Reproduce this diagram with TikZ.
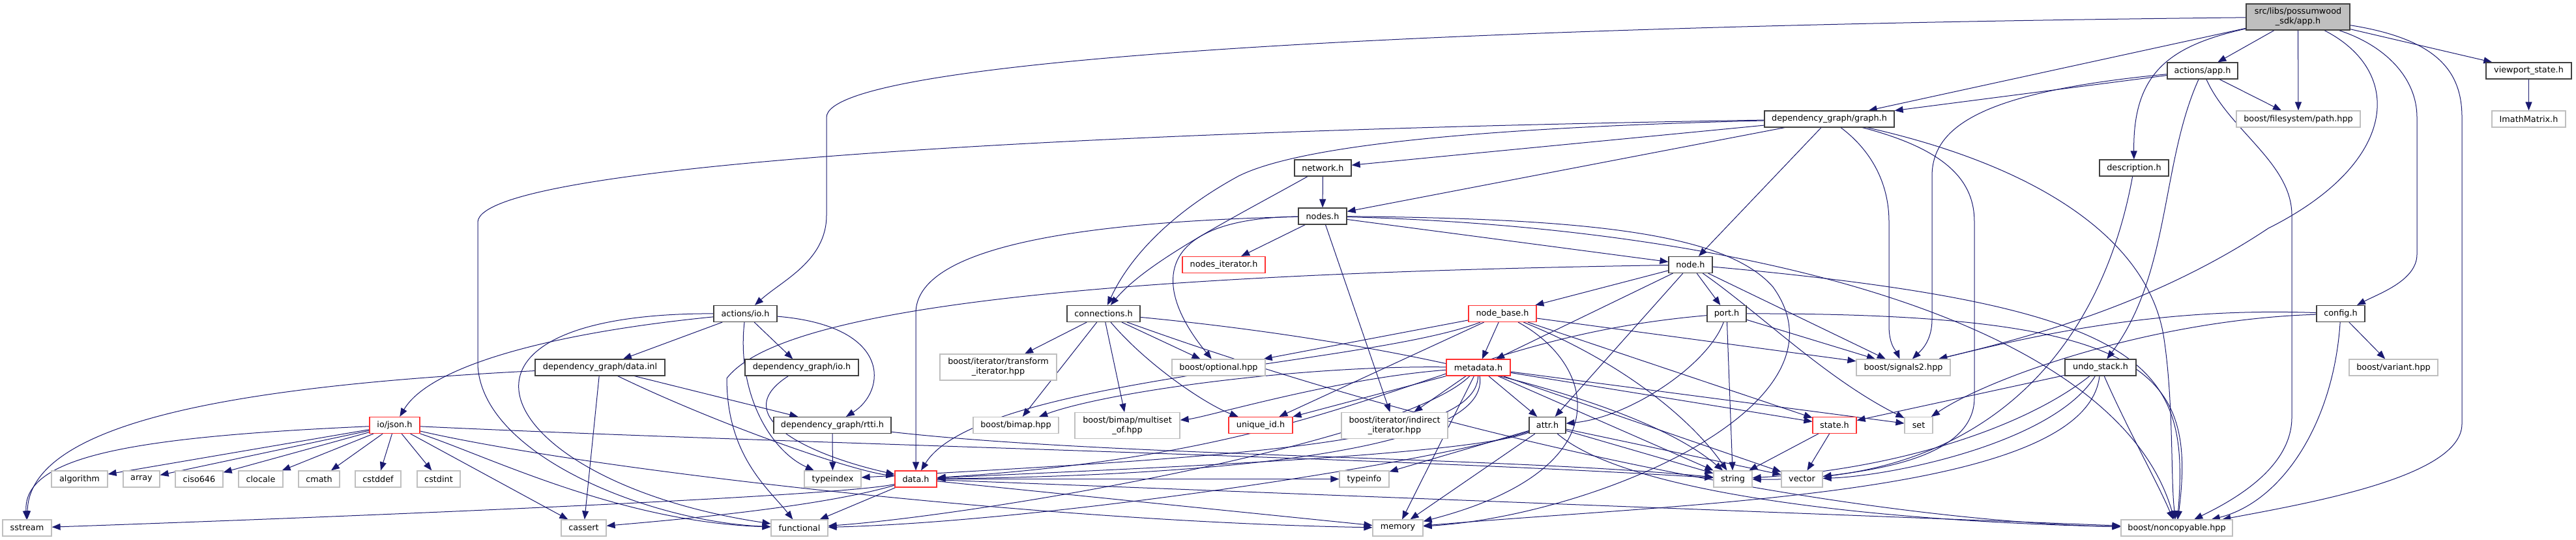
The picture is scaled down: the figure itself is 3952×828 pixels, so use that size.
\documentclass[tikz,border=0pt]{standalone}
\usepackage{fontspec}
\setmainfont{DejaVu Sans}
\usetikzlibrary{arrows.meta}
\definecolor{edgec}{HTML}{191970}
\definecolor{docb}{HTML}{404040}
\definecolor{extb}{HTML}{BFBFBF}
\definecolor{trunc}{HTML}{FF3030}
\definecolor{rootf}{HTML}{BFBFBF}
\pgfdeclarelayer{back}
\pgfdeclarelayer{edges}
\pgfsetlayers{back,edges,main}
\newcommand\dxfont{\fontsize{6.4pt}{7.6pt}\selectfont}
\begin{document}
\begin{tikzpicture}[x=0.5pt,y=-0.5pt,
  base/.style={rectangle, inner sep=0pt, minimum height=12.5pt, font=\dxfont, align=center, line width=0.6pt, fill=white, text=black},
  doc/.style={base, draw=docb},
  ext/.style={base, draw=extb},
  trn/.style={base, draw=trunc},
  root/.style={base, draw=docb, fill=rootf},
  wd/.style={minimum width=#1*0.5pt},
  h2/.style={minimum height=20pt},
  edg/.style={draw=edgec, line width=0.5pt, -{Triangle[length=6.5pt,width=5pt]}}]
\begin{pgfonlayer}{back}
\fill[white] (0,0) rectangle (3952,828);
\end{pgfonlayer}
\useasboundingbox (0,0) rectangle (3952,828);
% row 0
\node[root, wd=159, h2] (A) at (3525.5,26) {src/libs/possumwood\\\_sdk/app.h};
% row 1
\node[doc, wd=108] (AA) at (3379,108.5) {actions/app.h};
\node[doc, wd=131] (VP) at (3879.5,108.5) {viewport\_state.h};
% row 2
\node[doc, wd=199] (G) at (2806.5,182.5) {dependency\_graph/graph.h};
\node[ext, wd=190] (PATH) at (3526,182.5) {boost/filesystem/path.hpp};
\node[ext, wd=113] (IM) at (3879.5,182.5) {ImathMatrix.h};
% row 3
\node[doc, wd=87] (NET) at (2029.5,257.5) {network.h};
\node[doc, wd=106] (DESC) at (3274,257.5) {description.h};
% row 4
\node[doc, wd=74] (NODES) at (2029,331.5) {nodes.h};
% row 5
\node[trn, wd=127] (NITER) at (1877.5,406) {nodes\_iterator.h};
\node[doc, wd=67] (NODE) at (2593.5,406) {node.h};
% row 6
\node[doc, wd=97] (AIO) at (1143.5,481) {actions/io.h};
\node[doc, wd=112] (CONN) at (1693,481) {connections.h};
\node[trn, wd=104] (NB) at (2305,481) {node\_base.h};
\node[doc, wd=60] (PORT) at (2649,481) {port.h};
\node[doc, wd=74] (CFG) at (3591,481) {config.h};
% row 7
\node[doc, wd=199] (DI) at (920.5,563.5) {dependency\_graph/data.inl};
\node[doc, wd=174] (DIO) at (1230,563.5) {dependency\_graph/io.h};
\node[ext, wd=179, h2] (TRANS) at (1531.5,563) {boost/iterator/transform\\\_iterator.hpp};
\node[ext, wd=143] (OPT) at (1869.5,563.5) {boost/optional.hpp};
\node[trn, wd=98] (META) at (2268,563.5) {metadata.h};
\node[ext, wd=144] (SIG) at (2920,563.5) {boost/signals2.hpp};
\node[doc, wd=109] (UNDO) at (3222.5,563.5) {undo\_stack.h};
\node[ext, wd=136] (VAR) at (3672,563.5) {boost/variant.hpp};
% row 8
\node[trn, wd=77] (JSON) at (605.5,652) {io/json.h};
\node[doc, wd=180] (RTTI) at (1277,652) {dependency\_graph/rtti.h};
\node[ext, wd=131] (BIMAP) at (1558.5,652) {boost/bimap.hpp};
\node[ext, wd=161, h2] (MULTI) at (1729.5,652.5) {boost/bimap/multiset\\\_of.hpp};
\node[trn, wd=98] (UID) at (1934,652) {unique\_id.h};
\node[ext, wd=163, h2] (IND) at (2139.5,652.5) {boost/iterator/indirect\\\_iterator.hpp};
\node[doc, wd=56] (ATTR) at (2374,652) {attr.h};
\node[trn, wd=67] (STATE) at (2814.5,652) {state.h};
\node[ext, wd=43] (SET) at (2943.5,652) {set};
% row 9
\node[ext, wd=86] (ALG) at (122,734.5) {algorithm};
\node[ext, wd=56] (ARR) at (217,734.5) {array};
\node[ext, wd=73] (CISO) at (305.5,734.5) {ciso646};
\node[ext, wd=68] (CLOC) at (400,734.5) {clocale};
\node[ext, wd=63] (CMATH) at (489.5,734.5) {cmath};
\node[ext, wd=70] (CSTDDEF) at (580,734.5) {cstddef};
\node[ext, wd=66] (CSTDINT) at (673,734.5) {cstdint};
\node[ext, wd=87] (TIDX) at (1277.5,734.5) {typeindex};
\node[trn, wd=64] (DATA) at (1405,734.5) {data.h};
\node[ext, wd=76] (TINFO) at (2093,734.5) {typeinfo};
\node[ext, wd=59] (STR) at (2658.5,734.5) {string};
\node[ext, wd=63] (VEC) at (2764.5,734.5) {vector};
% row 10
\node[ext, wd=75] (SS) at (41.5,809.5) {sstream};
\node[ext, wd=69] (CAS) at (895.5,809.5) {cassert};
\node[ext, wd=87] (FUNC) at (1226.5,809.5) {functional};
\node[ext, wd=77] (MEM) at (2144.5,809.5) {memory};
\node[ext, wd=171] (NC) at (3339.5,809.5) {boost/noncopyable.hpp};

\begin{pgfonlayer}{edges}
% app.h
\draw[edg] (A) -- (AA);
\draw[edg] (A) -- (PATH);
\draw[edg] (A) -- (VP);
\draw[edg] (A) -- (G);
\draw[edg] (A) .. controls (2200,40) and (1268,90) .. (1268,180) -- (1268,330) .. controls (1268,400) and (1200,430) .. (AIO);
\draw[edg] (A) .. controls (3330,70) and (3272,110) .. (DESC);
\draw[edg] (A) .. controls (3660,70) and (3708,120) .. (3708,180) -- (3708,390) .. controls (3708,430) and (3650,450) .. (CFG);
\draw[edg] (A) .. controls (3690,110) and (3680,250) .. (3480,350) .. controls (3300,470) and (3100,520) .. (SIG);
\draw[edg] (A) .. controls (3740,60) and (3777,110) .. (3777,180) -- (3777,650) .. controls (3777,730) and (3550,770) .. (NC);
\draw[edg] (VP) -- (IM);
% actions/app.h
\draw[edg] (AA) -- (G);
\draw[edg] (AA) -- (PATH);
\draw[edg] (AA) .. controls (3050,140) and (2964,190) .. (2964,270) -- (2964,490) .. controls (2964,520) and (2950,535) .. (SIG);
\draw[edg] (AA) .. controls (3315,250) and (3330,420) .. (UNDO);
\draw[edg] (AA) .. controls (3420,200) and (3516,250) .. (3516,330) -- (3516,640) .. controls (3516,720) and (3420,770) .. (NC);
% graph.h
\draw[edg] (G) -- (NET);
\draw[edg] (G) -- (NODES);
\draw[edg] (G) -- (NODE);
\draw[edg] (G) .. controls (2300,195) and (2000,220) .. (1900,270) .. controls (1790,330) and (1730,400) .. (CONN);
\draw[edg] (G) .. controls (2870,230) and (2898,280) .. (2898,340) -- (2898,500) .. controls (2898,530) and (2910,540) .. (SIG);
\draw[edg] (G) .. controls (2990,230) and (3029,280) .. (3029,340) -- (3029,610) .. controls (3029,700) and (2880,720) .. (VEC);
\draw[edg] (G) .. controls (3150,260) and (3300,380) .. (3320,520) .. controls (3335,620) and (3330,740) .. (NC);
\draw[edg] (G) .. controls (1700,200) and (740,250) .. (733,340) -- (733,560) .. controls (740,700) and (1000,800) .. (FUNC);
% description.h
\draw[edg] (DESC) .. controls (3230,500) and (3080,740) .. (STR);
% network.h
\draw[edg] (NET) -- (NODES);
\draw[edg] (NET) .. controls (1900,330) and (1760,400) .. (CONN);
% nodes.h
\draw[edg] (NODES) -- (NITER);
\draw[edg] (NODES) -- (NODE);
\draw[edg] (NODES) .. controls (1780,335) and (1760,430) .. (OPT);
\draw[edg] (NODES) .. controls (1650,340) and (1405,380) .. (1405,480) -- (DATA);
\draw[edg] (NODES) -- (IND);
\draw[edg] (NODES) .. controls (2450,335) and (2650,360) .. (2720,440) .. controls (2850,620) and (2450,790) .. (MEM);
\draw[edg] (NODES) .. controls (2700,350) and (3250,500) .. (NC);
% node.h
\draw[edg] (NODE) -- (NB);
\draw[edg] (NODE) -- (META);
\draw[edg] (NODE) -- (ATTR);
\draw[edg] (NODE) -- (PORT);
\draw[edg] (NODE) -- (SIG);
\draw[edg] (NODE) .. controls (2700,480) and (2800,580) .. (SET);
\draw[edg] (NODE) .. controls (3300,470) and (3360,560) .. (NC);
\draw[edg] (NODE) .. controls (1700,420) and (1200,470) .. (1115,580) .. controls (1115,700) and (1180,750) .. (FUNC);
% connections.h
\draw[edg] (CONN) -- (TRANS);
\draw[edg] (CONN) -- (BIMAP);
\draw[edg] (CONN) -- (MULTI);
\draw[edg] (CONN) .. controls (1760,560) and (1850,620) .. (UID);
\draw[edg] (CONN) -- (OPT);
\draw[edg] (CONN) .. controls (2100,520) and (2500,600) .. (STR);
\draw[edg] (CONN) .. controls (2300,700) and (2900,800) .. (NC);
% node_base.h
\draw[edg] (NB) -- (META);
\draw[edg] (NB) -- (UID);
\draw[edg] (NB) -- (OPT);
\draw[edg] (NB) .. controls (2100,560) and (1500,580) .. (DATA);
\draw[edg] (NB) .. controls (2450,560) and (2490,720) .. (MEM);
\draw[edg] (NB) -- (SIG);
\draw[edg] (NB) -- (STATE);
\draw[edg] (NB) .. controls (2500,560) and (2600,650) .. (STR);
% metadata.h
\draw[edg] (META) -- (IND);
\draw[edg] (META) -- (ATTR);
\draw[edg] (META) -- (UID);
\draw[edg] (META) .. controls (2000,560) and (1700,600) .. (BIMAP);
\draw[edg] (META) .. controls (2050,580) and (1850,640) .. (MULTI);
\draw[edg] (META) .. controls (2265,680) and (1900,700) .. (TIDX);
\draw[edg] (META) .. controls (2290,700) and (1800,730) .. (DATA);
\draw[edg] (META) -- (STATE);
\draw[edg] (META) -- (SET);
\draw[edg] (META) -- (VEC);
\draw[edg] (META) -- (STR);
\draw[edg] (META) .. controls (2150,680) and (1500,790) .. (FUNC);
\draw[edg] (META) -- (MEM);
% attr.h
\draw[edg] (ATTR) -- (TINFO);
\draw[edg] (ATTR) .. controls (2250,700) and (1700,720) .. (DATA);
\draw[edg] (ATTR) -- (MEM);
\draw[edg] (ATTR) -- (STR);
\draw[edg] (ATTR) -- (VEC);
\draw[edg] (ATTR) .. controls (2500,760) and (2900,800) .. (NC);
\draw[edg] (ATTR) .. controls (2200,710) and (1600,800) .. (FUNC);
% port.h
\draw[edg] (PORT) .. controls (3300,480) and (3370,570) .. (NC);
\draw[edg] (PORT) -- (SIG);
\draw[edg] (PORT) -- (STR);
\draw[edg] (PORT) .. controls (2620,560) and (2500,640) .. (ATTR);
\draw[edg] (PORT) .. controls (2200,520) and (2100,690) .. (DATA);
% state.h
\draw[edg] (STATE) -- (STR);
\draw[edg] (STATE) -- (VEC);
% undo_stack.h
\draw[edg] (UNDO) -- (STATE);
\draw[edg] (UNDO) .. controls (3100,660) and (2900,720) .. (STR);
\draw[edg] (UNDO) .. controls (3150,680) and (2900,730) .. (VEC);
\draw[edg] (UNDO) .. controls (3200,760) and (2600,770) .. (MEM);
\draw[edg] (UNDO) .. controls (3260,650) and (3310,740) .. (NC);
% config.h
\draw[edg] (CFG) .. controls (3300,470) and (3100,520) .. (SIG);
\draw[edg] (CFG) .. controls (3300,490) and (3050,580) .. (SET);
\draw[edg] (CFG) -- (VAR);
\draw[edg] (CFG) .. controls (3580,650) and (3500,770) .. (NC);
% actions/io.h
\draw[edg] (AIO) -- (DI);
\draw[edg] (AIO) -- (DIO);
\draw[edg] (AIO) .. controls (1370,500) and (1360,600) .. (RTTI);
\draw[edg] (AIO) .. controls (850,510) and (660,560) .. (JSON);
\draw[edg] (AIO) .. controls (620,480) and (760,740) .. (FUNC);
\draw[edg] (AIO) .. controls (1130,600) and (1180,690) .. (TIDX);
% data.inl
\draw[edg] (DI) .. controls (400,590) and (45,640) .. (SS);
\draw[edg] (DI) -- (CAS);
\draw[edg] (DI) .. controls (1100,650) and (1300,720) .. (DATA);
\draw[edg] (DI) -- (RTTI);
% dependency_graph/io.h
\draw[edg] (DIO) .. controls (1110,640) and (1250,700) .. (DATA);
% rtti.h
\draw[edg] (RTTI) -- (TIDX);
\draw[edg] (RTTI) .. controls (1700,700) and (2300,700) .. (STR);
% io/json.h
\draw[edg] (JSON) .. controls (200,670) and (35,700) .. (SS);
\draw[edg] (JSON) -- (ALG);
\draw[edg] (JSON) -- (ARR);
\draw[edg] (JSON) -- (CISO);
\draw[edg] (JSON) -- (CLOC);
\draw[edg] (JSON) -- (CMATH);
\draw[edg] (JSON) -- (CSTDDEF);
\draw[edg] (JSON) -- (CSTDINT);
\draw[edg] (JSON) -- (CAS);
\draw[edg] (JSON) .. controls (750,700) and (950,800) .. (FUNC);
\draw[edg] (JSON) .. controls (1200,680) and (2100,700) .. (STR);
\draw[edg] (JSON) .. controls (900,720) and (1600,800) .. (MEM);
% data.h
\draw[edg] (DATA) .. controls (1300,760) and (600,790) .. (SS);
\draw[edg] (DATA) .. controls (1250,780) and (1000,800) .. (CAS);
\draw[edg] (DATA) -- (FUNC);
\draw[edg] (DATA) -- (MEM);
\draw[edg] (DATA) -- (TINFO);
\draw[edg] (DATA) -- (NC);
\end{pgfonlayer}
\end{tikzpicture}
\end{document}
